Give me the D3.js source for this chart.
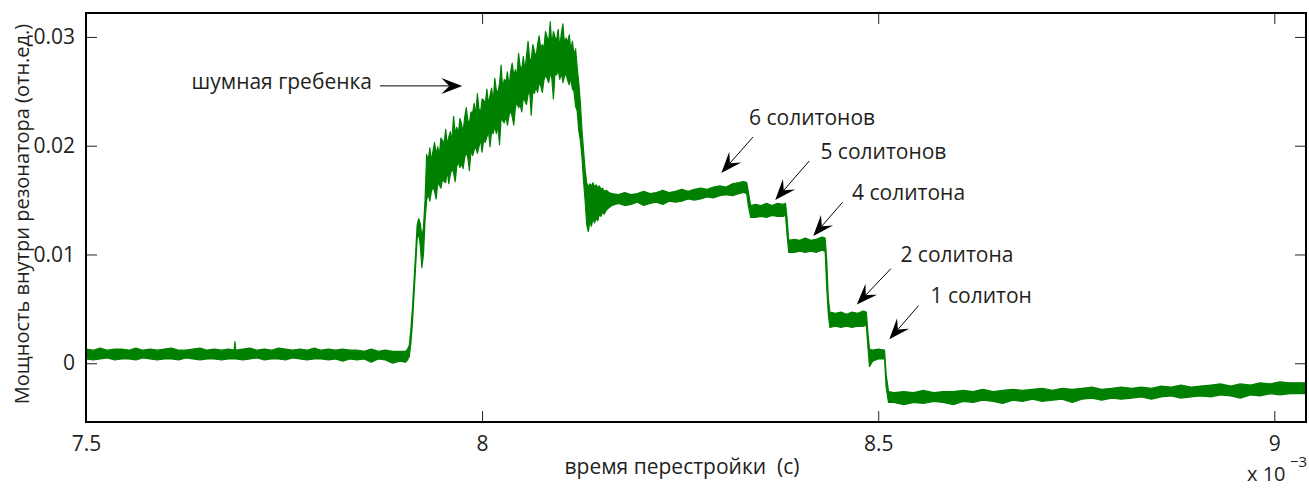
<!DOCTYPE html>
<html>
<head>
<meta charset="utf-8">
<script src="https://cdn.jsdelivr.net/npm/d3@7"></script>
<style>
  body { margin: 0; background: #fff; }
  text { font-family: "Open Sans", "Noto Sans", sans-serif; fill: #231f20; }
</style>
</head>
<body>
<svg id="chart" width="1309" height="488"></svg>
<script>
// Tuning time (units of 1e-3 s) and the upper / lower envelope of the intracavity power trace.
// One block per stretch: baseline, rise, noisy comb, settling, 6-soliton plateau, soliton steps, tail.
const timeMs = [
  7.500, 7.509, 7.518, 7.527, 7.536, 7.545, 7.554, 7.563, 7.572, 7.581, 7.590, 7.599, 7.608, 7.617, 7.626, 7.635, 7.644, 7.653, 7.662, 7.671,
  7.680, 7.687, 7.688, 7.689, 7.698, 7.707, 7.716, 7.725, 7.734, 7.743, 7.752, 7.761, 7.770, 7.779, 7.788, 7.797, 7.806, 7.815, 7.824, 7.833,
  7.842, 7.851, 7.860, 7.869, 7.878, 7.887, 7.896, 7.903,
  7.905, 7.908, 7.910, 7.912, 7.914, 7.916, 7.918, 7.920, 7.922, 7.924, 7.926,
  7.928, 7.930, 7.932, 7.934, 7.936, 7.938, 7.940, 7.942, 7.944, 7.946, 7.948, 7.950, 7.952, 7.954, 7.956, 7.958, 7.960, 7.962, 7.964, 7.966,
  7.968, 7.970, 7.972, 7.974, 7.976, 7.978, 7.980, 7.982, 7.984, 7.986, 7.988, 7.990, 7.992, 7.994, 7.996, 7.998, 8.000, 8.002, 8.004, 8.006,
  8.008, 8.010, 8.012, 8.014, 8.016, 8.018, 8.020, 8.022, 8.024, 8.026, 8.028, 8.030, 8.032, 8.034, 8.036, 8.038, 8.040, 8.042, 8.044, 8.046,
  8.048, 8.050, 8.052, 8.054, 8.056, 8.058, 8.060, 8.062, 8.064, 8.066, 8.068, 8.070, 8.072, 8.074, 8.076, 8.078, 8.080, 8.082, 8.084, 8.086,
  8.088, 8.090, 8.092, 8.094, 8.096, 8.098, 8.100, 8.102, 8.104, 8.106, 8.108, 8.110, 8.112, 8.114, 8.116, 8.118, 8.120, 8.122, 8.124,
  8.126, 8.128, 8.130, 8.132, 8.134, 8.136, 8.138, 8.140, 8.142, 8.144, 8.146, 8.148, 8.150, 8.152, 8.154, 8.157, 8.160,
  8.164, 8.172, 8.180, 8.188, 8.196, 8.204, 8.212, 8.220, 8.228, 8.236, 8.244, 8.252, 8.260, 8.268, 8.276, 8.284, 8.292, 8.300, 8.308, 8.316,
  8.324, 8.330, 8.334,
  8.336, 8.339, 8.345, 8.352, 8.359, 8.366, 8.373, 8.380, 8.383, 8.385, 8.387, 8.394, 8.401, 8.408, 8.415, 8.422, 8.429, 8.433,
  8.435, 8.437, 8.439, 8.446, 8.453, 8.460, 8.467, 8.474, 8.481, 8.485, 8.487, 8.489, 8.493, 8.500, 8.508, 8.510, 8.513,
  8.520, 8.532, 8.545, 8.557, 8.570, 8.582, 8.595, 8.607, 8.620, 8.632, 8.645, 8.657, 8.670, 8.682, 8.695, 8.707, 8.720, 8.732, 8.745, 8.757,
  8.770, 8.782, 8.795, 8.807, 8.820, 8.832, 8.845, 8.857, 8.870, 8.882, 8.895, 8.907, 8.920, 8.932, 8.945, 8.957, 8.970, 8.982, 8.995, 9.007,
  9.020, 9.040
];

const powerHigh = [
  0.0013, 0.0012, 0.0014, 0.0012, 0.0013, 0.0013, 0.0012, 0.0014, 0.0012, 0.0013, 0.0012, 0.0013, 0.0014, 0.0012, 0.0012, 0.0013, 0.0014, 0.0012, 0.0013, 0.0012,
  0.0013, 0.0012, 0.0020, 0.0012, 0.0013, 0.0014, 0.0012, 0.0013, 0.0012, 0.0014, 0.0013, 0.0012, 0.0013, 0.0012, 0.0014, 0.0012, 0.0013, 0.0012, 0.0013, 0.0012,
  0.0012, 0.0011, 0.0013, 0.0011, 0.0012, 0.0011, 0.0011, 0.0011,
  0.0012, 0.0016, 0.0030, 0.0050, 0.0075, 0.0100, 0.0127, 0.0133, 0.0128, 0.0116, 0.0125,
  0.0150, 0.0192, 0.0186, 0.0198, 0.0186, 0.0195, 0.0203, 0.0192, 0.0199, 0.0191, 0.0207, 0.0205, 0.0201, 0.0215, 0.0201, 0.0208, 0.0213, 0.0204, 0.0227, 0.0211,
  0.0217, 0.0211, 0.0225, 0.0220, 0.0212, 0.0226, 0.0235, 0.0223, 0.0221, 0.0231, 0.0230, 0.0239, 0.0228, 0.0248, 0.0234, 0.0230, 0.0243, 0.0242, 0.0238, 0.0252,
  0.0238, 0.0246, 0.0253, 0.0240, 0.0262, 0.0251, 0.0249, 0.0257, 0.0274, 0.0252, 0.0261, 0.0258, 0.0268, 0.0254, 0.0268, 0.0276, 0.0264, 0.0270, 0.0264, 0.0285,
  0.0273, 0.0270, 0.0282, 0.0269, 0.0282, 0.0296, 0.0280, 0.0278, 0.0293, 0.0287, 0.0281, 0.0293, 0.0301, 0.0289, 0.0293, 0.0289, 0.0305, 0.0300, 0.0295, 0.0314,
  0.0292, 0.0305, 0.0300, 0.0297, 0.0307, 0.0290, 0.0303, 0.0312, 0.0294, 0.0299, 0.0295, 0.0302, 0.0288, 0.0296, 0.0283, 0.0289, 0.0272, 0.0258, 0.0240,
  0.0215, 0.0196, 0.0178, 0.0166, 0.0162, 0.0165, 0.0163, 0.0166, 0.0162, 0.0164, 0.0161, 0.0163, 0.0160, 0.0161, 0.0158, 0.0159, 0.0157,
  0.0156, 0.0155, 0.0157, 0.0155, 0.0156, 0.0158, 0.0156, 0.0157, 0.0159, 0.0157, 0.0158, 0.0160, 0.0158, 0.0160, 0.0161, 0.0160, 0.0162, 0.0163, 0.0162, 0.0165,
  0.0166, 0.0167, 0.0166,
  0.0158, 0.0145, 0.0146, 0.0145, 0.0147, 0.0145, 0.0147, 0.0146, 0.0147, 0.0133, 0.0113, 0.0114, 0.0113, 0.0115, 0.0113, 0.0114, 0.0116, 0.0115,
  0.0095, 0.0060, 0.0047, 0.0046, 0.0047, 0.0045, 0.0047, 0.0046, 0.0048, 0.0047, 0.0028, 0.0013, 0.0012, 0.0013, 0.0012, -0.0010, -0.0026,
  -0.0027, -0.0026, -0.0027, -0.0025, -0.0027, -0.0026, -0.0026, -0.0025, -0.0026, -0.0024, -0.0026, -0.0025, -0.0024, -0.0025, -0.0024, -0.0023, -0.0025, -0.0023, -0.0024, -0.0023,
  -0.0022, -0.0024, -0.0023, -0.0022, -0.0023, -0.0022, -0.0023, -0.0021, -0.0022, -0.0020, -0.0022, -0.0021, -0.0020, -0.0019, -0.0021, -0.0019, -0.0020, -0.0018, -0.0019, -0.0017,
  -0.0018, -0.0018
];

const powerLow = [
  0.0004, 0.0003, 0.0004, 0.0005, 0.0003, 0.0004, 0.0004, 0.0003, 0.0005, 0.0004, 0.0003, 0.0004, 0.0004, 0.0003, 0.0005, 0.0004, 0.0003, 0.0004, 0.0004, 0.0003,
  0.0004, 0.0004, 0.0004, 0.0004, 0.0003, 0.0004, 0.0005, 0.0003, 0.0004, 0.0004, 0.0003, 0.0005, 0.0004, 0.0003, 0.0004, 0.0004, 0.0003, 0.0004, 0.0002, 0.0004,
  0.0003, 0.0004, 0.0001, 0.0004, 0.0003, 0.0000, 0.0002, 0.0001,
  0.0002, 0.0006, 0.0018, 0.0036, 0.0062, 0.0088, 0.0114, 0.0120, 0.0108, 0.0088, 0.0100,
  0.0132, 0.0150, 0.0156, 0.0149, 0.0158, 0.0162, 0.0158, 0.0151, 0.0166, 0.0164, 0.0161, 0.0169, 0.0167, 0.0166, 0.0177, 0.0165, 0.0174, 0.0179, 0.0175, 0.0167,
  0.0181, 0.0185, 0.0180, 0.0184, 0.0179, 0.0189, 0.0194, 0.0189, 0.0177, 0.0196, 0.0191, 0.0196, 0.0199, 0.0193, 0.0199, 0.0206, 0.0194, 0.0206, 0.0203, 0.0208,
  0.0214, 0.0199, 0.0214, 0.0211, 0.0218, 0.0211, 0.0218, 0.0201, 0.0225, 0.0223, 0.0221, 0.0227, 0.0219, 0.0228, 0.0232, 0.0227, 0.0219, 0.0235, 0.0240, 0.0235,
  0.0238, 0.0231, 0.0244, 0.0241, 0.0238, 0.0247, 0.0251, 0.0228, 0.0250, 0.0248, 0.0254, 0.0249, 0.0258, 0.0255, 0.0249, 0.0260, 0.0265, 0.0262, 0.0258, 0.0267,
  0.0262, 0.0243, 0.0266, 0.0265, 0.0270, 0.0261, 0.0267, 0.0258, 0.0264, 0.0266, 0.0260, 0.0256, 0.0262, 0.0252, 0.0250, 0.0236, 0.0232, 0.0214, 0.0205,
  0.0190, 0.0168, 0.0150, 0.0128, 0.0121, 0.0130, 0.0126, 0.0133, 0.0129, 0.0134, 0.0131, 0.0137, 0.0135, 0.0139, 0.0137, 0.0141, 0.0143,
  0.0145, 0.0147, 0.0145, 0.0146, 0.0148, 0.0145, 0.0147, 0.0148, 0.0146, 0.0149, 0.0148, 0.0149, 0.0151, 0.0150, 0.0151, 0.0153, 0.0152, 0.0154, 0.0155, 0.0154,
  0.0156, 0.0157, 0.0156,
  0.0145, 0.0134, 0.0134, 0.0135, 0.0134, 0.0136, 0.0135, 0.0135, 0.0136, 0.0118, 0.0102, 0.0102, 0.0103, 0.0102, 0.0103, 0.0102, 0.0104, 0.0103,
  0.0070, 0.0045, 0.0033, 0.0034, 0.0033, 0.0034, 0.0033, 0.0034, 0.0034, 0.0035, 0.0015, -0.0003, 0.0002, 0.0004, 0.0004, -0.0022, -0.0036,
  -0.0036, -0.0038, -0.0036, -0.0037, -0.0035, -0.0036, -0.0038, -0.0035, -0.0036, -0.0034, -0.0035, -0.0037, -0.0034, -0.0035, -0.0033, -0.0035, -0.0034, -0.0033, -0.0036, -0.0033,
  -0.0032, -0.0034, -0.0032, -0.0033, -0.0032, -0.0031, -0.0033, -0.0031, -0.0030, -0.0032, -0.0031, -0.0030, -0.0031, -0.0029, -0.0030, -0.0032, -0.0029, -0.0030, -0.0028, -0.0029,
  -0.0028, -0.0028
];

const xTicks = [7.5, 8, 8.5, 9];
const yTicks = [0, 0.01, 0.02, 0.03];

// Annotation texts and their arrows (data coordinates)
const noteText = ["шумная гребенка", "6 солитонов", "5 солитонов", "4 солитона", "2 солитона", "1 солитон"];
const noteAnchor = ["end", "start", "start", "start", "start", "start"];
const noteTime = [7.861, 8.337, 8.427, 8.467, 8.528, 8.566];
const notePower = [0.0252, 0.0219, 0.0188, 0.0150, 0.0093, 0.0055];
const arrowFromTime = [7.871, 8.342, 8.413, 8.455, 8.516, 8.551];
const arrowFromPower = [0.0255, 0.0208, 0.0186, 0.0148, 0.0087, 0.0053];
const arrowToTime = [7.975, 8.302, 8.370, 8.418, 8.473, 8.514];
const arrowToPower = [0.0255, 0.0175, 0.0150, 0.0117, 0.0054, 0.0022];

const margin = { top: 13, right: 3, bottom: 66, left: 86 };
const W = 1309, H = 488;
const iw = W - margin.left - margin.right;
const ih = H - margin.top - margin.bottom;

const svg = d3.select("#chart");
const g = svg.append("g").attr("transform", `translate(${margin.left},${margin.top})`);

const x = d3.scaleLinear().domain([7.5, 9.04]).range([0, iw]);
const y = d3.scaleLinear().domain([-0.0054, 0.0322]).range([ih, 0]);

g.append("clipPath").attr("id", "plotClip")
  .append("rect").attr("width", iw).attr("height", ih);

const n = Math.min(timeMs.length, powerHigh.length, powerLow.length);
const trace = d3.range(n).map(i => ({ t: timeMs[i], hi: powerHigh[i], lo: powerLow[i] }));

const band = d3.area()
  .x(d => x(d.t))
  .y0(d => y(d.lo))
  .y1(d => y(d.hi));

g.append("path")
  .datum(trace)
  .attr("clip-path", "url(#plotClip)")
  .attr("d", band)
  .attr("fill", "#008000")
  .attr("stroke", "#008000")
  .attr("stroke-width", 1.2)
  .attr("stroke-linejoin", "round");

// Axes with inward ticks on all four sides
const tickLen = 11;
const fmt = d => String(d);

const axB = g.append("g").attr("transform", `translate(0,${ih})`)
  .call(d3.axisBottom(x).tickValues(xTicks).tickSizeInner(-tickLen).tickSizeOuter(0).tickPadding(14).tickFormat(fmt));
const axT = g.append("g")
  .call(d3.axisTop(x).tickValues(xTicks).tickSizeInner(-tickLen).tickSizeOuter(0).tickFormat(""));
const axL = g.append("g")
  .call(d3.axisLeft(y).tickValues(yTicks).tickSizeInner(-tickLen).tickSizeOuter(0).tickPadding(11).tickFormat(fmt));
const axR = g.append("g").attr("transform", `translate(${iw},0)`)
  .call(d3.axisRight(y).tickValues(yTicks).tickSizeInner(-tickLen).tickSizeOuter(0).tickFormat(""));

[axB, axT, axL, axR].forEach(a => {
  a.select(".domain").remove();
  a.selectAll(".tick line").attr("stroke", "#222").attr("stroke-width", 1);
  a.selectAll(".tick text").style("font-size", "21px").attr("fill", "#231f20");
});

g.append("rect")
  .attr("width", iw).attr("height", ih)
  .attr("fill", "none").attr("stroke", "#000").attr("stroke-width", 2);

// Axis titles
svg.append("text")
  .attr("transform", "translate(29,214) rotate(-90)")
  .attr("text-anchor", "middle")
  .style("font-size", "20px")
  .text("Мощность внутри резонатора (отн.ед.)");

svg.append("text")
  .attr("x", 682).attr("y", 474)
  .attr("text-anchor", "middle")
  .style("font-size", "21px")
  .style("white-space", "pre")
  .text("время перестройки  (с)");

// Axis multiplier
svg.append("text")
  .attr("x", 1247).attr("y", 481)
  .style("font-size", "20px")
  .text("x 10");
svg.append("text")
  .attr("x", 1290).attr("y", 467)
  .style("font-size", "15px")
  .text("\u22123");

// Annotations
const notes = g.append("g");
noteText.forEach((txt, i) => {
  notes.append("text")
    .attr("x", x(noteTime[i])).attr("y", y(notePower[i]))
    .attr("text-anchor", noteAnchor[i])
    .style("font-size", "21px")
    .text(txt);

  const x1 = x(arrowFromTime[i]), y1 = y(arrowFromPower[i]);
  const x2 = x(arrowToTime[i]), y2 = y(arrowToPower[i]);
  const len = Math.hypot(x2 - x1, y2 - y1);
  const ux = (x2 - x1) / len, uy = (y2 - y1) / len;
  const nx = -uy, ny = ux;
  const headL = 21, headW = 8, notch = 13;
  const bx = x2 - headL * ux, by = y2 - headL * uy;
  const mx = x2 - notch * ux, my = y2 - notch * uy;

  notes.append("line")
    .attr("x1", x1).attr("y1", y1).attr("x2", mx).attr("y2", my)
    .attr("stroke", "#000").attr("stroke-width", 1);
  notes.append("path")
    .attr("d", `M${x2},${y2}L${bx + headW * nx},${by + headW * ny}L${mx},${my}L${bx - headW * nx},${by - headW * ny}Z`)
    .attr("fill", "#000");
});
</script>
</body>
</html>
